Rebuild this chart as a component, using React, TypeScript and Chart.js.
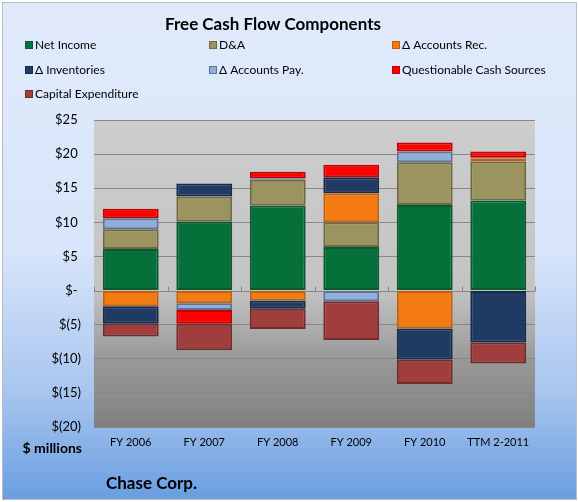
import { useEffect, useRef } from "react";
import { Chart, registerables } from "chart.js";

Chart.register(...registerables);

const chartTitle = "Free Cash Flow Components";
const categories = ["FY 2006", "FY 2007", "FY 2008", "FY 2009", "FY 2010", "TTM 2-2011"];
const seriesNames = [
  "Net Income",
  "D&A",
  "Δ Accounts Rec.",
  "Δ Inventories",
  "Δ Accounts Pay.",
  "Questionable Cash Sources",
  "Capital Expenditure",
];
const netIncome = [6.1, 10.1, 12.45, 6.4, 12.55, 13.2];
const depreciation = [2.9, 3.7, 3.8, 3.6, 6.25, 5.7];
const accountsRec = [-2.3, -1.85, -1.45, 4.25, -5.55, 0.45];
const inventories = [-2.55, 1.9, -1.2, 2.35, -4.55, -7.6];
const accountsPay = [1.6, -1.0, 0.2, -1.55, 1.6, 0.1];
const questionable = [1.4, -2.0, 0.95, 1.85, 1.3, 0.95];
const capex = [-1.9, -3.9, -3.0, -5.7, -3.6, -3.1];
const yMin = -20;
const yMax = 25;
const yStep = 5;
const yAxisNote = "$ millions";
const companyName = "Chase Corp.";

const fills = ["#06703a", "#9c945f", "#f47b12", "#1f3b64", "#8faedb", "#ff0000", "#a03e3e"];
const borders = ["#0b5a2f", "#6e6943", "#c2600e", "#142a4a", "#5f7393", "#c40000", "#742b2b"];

const FONT = "Lato, 'Open Sans', 'DejaVu Sans', sans-serif";

function fmtTick(v: number): string {
  if (v === 0) return "$- ";
  if (v < 0) return "$(" + Math.abs(v) + ")";
  return "$" + v + " ";
}

const backgroundPlugin = {
  id: "bgPlugin",
  beforeDraw(chart: any) {
    const { ctx, width, height, chartArea } = chart;
    ctx.save();
    ctx.fillStyle = "#ffffff";
    ctx.fillRect(0, 0, width, height);
    const g = ctx.createLinearGradient(0, 3, 0, 499);
    g.addColorStop(0, "#e0eafb");
    g.addColorStop(0.5, "#d8e5fa");
    g.addColorStop(0.78, "#a9c6ef");
    g.addColorStop(1, "#6a9ee1");
    ctx.fillStyle = g;
    ctx.fillRect(3, 3, 573, 496);
    ctx.strokeStyle = "#b8bcc4";
    ctx.lineWidth = 1;
    ctx.strokeRect(2.5, 2.5, 574, 497);
    const { left, top, right, bottom } = chartArea;
    const pg = ctx.createLinearGradient(0, top, 0, bottom);
    pg.addColorStop(0, "#cdcdcd");
    pg.addColorStop(0.55, "#c4c4c4");
    pg.addColorStop(0.78, "#999999");
    pg.addColorStop(1, "#808080");
    ctx.fillStyle = pg;
    ctx.fillRect(left, top, right - left, bottom - top);
    ctx.restore();
  },
  beforeDatasetsDraw(chart: any) {
    const { ctx, chartArea, scales } = chart;
    const y0 = Math.round(scales.y.getPixelForValue(0)) + 0.5;
    const n = categories.length;
    const step = (chartArea.right - chartArea.left) / n;
    ctx.save();
    ctx.strokeStyle = "#868686";
    ctx.lineWidth = 1;
    ctx.beginPath();
    ctx.moveTo(chartArea.left, y0);
    ctx.lineTo(chartArea.right, y0);
    for (let i = 0; i <= n; i++) {
      const x = Math.round(chartArea.left + step * i) + 0.5;
      ctx.moveTo(x, y0);
      ctx.lineTo(x, y0 - 5);
    }
    ctx.stroke();
    ctx.restore();
  },
  afterDraw(chart: any) {
    const { ctx } = chart;
    ctx.save();
    ctx.fillStyle = "#000000";
    ctx.textBaseline = "middle";
    ctx.textAlign = "center";
    ctx.font = "bold 17px " + FONT;
    ctx.fillText(chartTitle, 273, 25);

    const colX = [25, 209, 392];
    const rowY = [45, 70, 94];
    ctx.font = "12px " + FONT;
    ctx.textAlign = "left";
    chart.data.datasets.forEach((ds: any, i: number) => {
      const cx = colX[i % 3];
      const cy = rowY[Math.floor(i / 3)];
      ctx.fillStyle = ds.borderColor;
      ctx.fillRect(cx, cy - 4, 8, 8);
      ctx.fillStyle = ds.backgroundColor;
      ctx.fillRect(cx + 1, cy - 3, 6, 6);
      ctx.fillStyle = "#000000";
      ctx.fillText(ds.label, cx + 10, cy);
    });

    ctx.font = "bold 14px " + FONT;
    ctx.textAlign = "right";
    ctx.fillText(yAxisNote, 82, 448);
    ctx.font = "bold 17px " + FONT;
    ctx.textAlign = "left";
    ctx.fillText(companyName, 106, 484);
    ctx.restore();
  },
};

export default function App() {
  const canvasRef = useRef<HTMLCanvasElement | null>(null);

  useEffect(() => {
    if (!canvasRef.current) return;
    const series = [netIncome, depreciation, accountsRec, inventories, accountsPay, questionable, capex];
    const chart = new Chart(canvasRef.current, {
      type: "bar",
      data: {
        labels: categories,
        datasets: series.map((data, i) => ({
          label: seriesNames[i],
          data,
          backgroundColor: fills[i],
          borderColor: borders[i],
          borderWidth: 2,
          borderSkipped: false,
          categoryPercentage: 1,
          barPercentage: 0.76,
        })),
      },
      plugins: [backgroundPlugin],
      options: {
        responsive: false,
        animation: false,
        devicePixelRatio: 1,
        layout: { padding: { top: 120, left: 0, right: 43, bottom: 0 } },
        plugins: {
          legend: { display: false },
          title: { display: false },
          tooltip: { enabled: false },
        },
        scales: {
          x: {
            stacked: true,
            grid: { display: false, drawTicks: false },
            border: { display: false },
            ticks: {
              color: "#000000",
              font: { family: FONT, size: 11 },
              padding: 9,
              maxRotation: 0,
              autoSkip: false,
            },
            afterFit(scale: any) {
              scale.height = 75;
            },
          },
          y: {
            stacked: true,
            min: yMin,
            max: yMax,
            grid: {
              color: (c: any) => (c.tick && c.tick.value === 0 ? "rgba(0,0,0,0)" : "#878787"),
              drawTicks: false,
              lineWidth: 1,
            },
            border: { display: false },
            ticks: {
              stepSize: yStep,
              color: "#000000",
              font: { family: FONT, size: 13 },
              padding: 13,
              callback: (v: any) => fmtTick(Number(v)),
            },
            afterFit(scale: any) {
              scale.width = 94;
            },
          },
        },
      },
    });
    return () => chart.destroy();
  }, []);

  return (
    <div style={{ position: "fixed", left: 0, top: 0, width: 578, height: 502 }}>
      <canvas ref={canvasRef} width={578} height={502} style={{ display: "block", width: 578, height: 502 }} />
    </div>
  );
}
